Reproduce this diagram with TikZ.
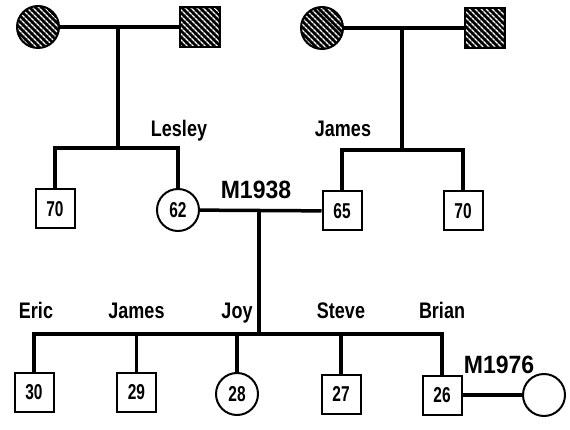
\documentclass[tikz,border=0pt]{standalone}
\usepackage{fontspec}
\usetikzlibrary{patterns.meta,calc}
\newfontfamily\namefont[FakeStretch=0.8]{Liberation Sans}
\newfontfamily\marfont[FakeStretch=0.92]{Liberation Sans}
\newfontfamily\numfont[FakeStretch=0.72]{Liberation Sans}
\tikzset{
  kin/.style={line width=3.5pt, line join=miter},
  person/.style={draw, line width=2pt, inner sep=0pt, font=\numfont\bfseries\fontsize{21.5}{21.5}\selectfont},
  male/.style={person, rectangle, minimum size=39pt},
  female/.style={person, circle, minimum size=42pt},
  hatched/.style={preaction={fill=black}, pattern={Lines[angle=-45,distance=4pt,line width=1.6pt]}, pattern color=white},
  namelbl/.style={anchor=base, inner sep=0pt, font=\namefont\bfseries\fontsize{22.5}{22.5}\selectfont},
  marlbl/.style={anchor=base, inner sep=0pt, font=\marfont\bfseries\fontsize{25}{25}\selectfont}
}
\begin{document}
\begin{tikzpicture}[x=1pt,y=-1pt]
\useasboundingbox (0,0) rectangle (570,430);
% grandparents
\node[female, hatched] (gp1) at (38,27) {};
\node[male, hatched, minimum size=40pt] (gp2) at (200,27) {};
\node[female, hatched] (gp3) at (322,28) {};
\node[male, hatched, minimum size=40pt] (gp4) at (485,28) {};
% parents generation
\node[male] (u70) at (55,209) {70};
\node[female] (lesley) at (178,210) {62};
\node[male] (james) at (342,211) {65};
\node[male] (u70b) at (463,211) {70};
% children
\node[male] (eric) at (34,392) {30};
\node[male] (jamesj) at (136.5,392) {29};
\node[female] (joy) at (237,394) {28};
\node[male] (steve) at (341,394) {27};
\node[male] (brian) at (442,395) {26};
\node[female] (wife) at (544,395) {};
% connectors
\coordinate (m1) at (118,27);
\coordinate (b1) at (118,148);
\draw[kin] (gp1) -- (gp2);
\draw[kin] (m1) -- (b1);
\draw[kin] (u70.north) |- (b1) -| (lesley.north);
\coordinate (m2) at (402,28);
\coordinate (b2) at (402,150);
\draw[kin] (gp3) -- (gp4);
\draw[kin] (m2) -- (b2);
\draw[kin] (james.north) |- (b2) -| (u70b.north);
\coordinate (m3) at (259,211);
\coordinate (b3) at (259,334);
\draw[kin] (lesley) -- (james);
\draw[kin] (m3) -- (b3);
\draw[kin] (eric.north) |- (b3) -| (brian.north);
\draw[kin] (jamesj.north) -- (jamesj.north |- b3);
\draw[kin] (joy.north) -- (joy.north |- b3);
\draw[kin] (steve.north) -- (steve.north |- b3);
\draw[kin] (brian) -- (wife);
% labels
\node[namelbl] (lLesley) at (179,137) {Lesley};
\node[namelbl] (lJames) at (343,137) {James};
\node[marlbl] (lM1938) at (256,199) {M1938};
\node[namelbl] (lEric) at (36,318) {Eric};
\node[namelbl] (lJamesj) at (136.5,318) {James};
\node[namelbl] (lJoy) at (237,318) {Joy};
\node[namelbl] (lSteve) at (341,318) {Steve};
\node[namelbl] (lBrian) at (442,318) {Brian};
\node[marlbl] (lM1976) at (499,373) {M1976};
\end{tikzpicture}
\end{document}
